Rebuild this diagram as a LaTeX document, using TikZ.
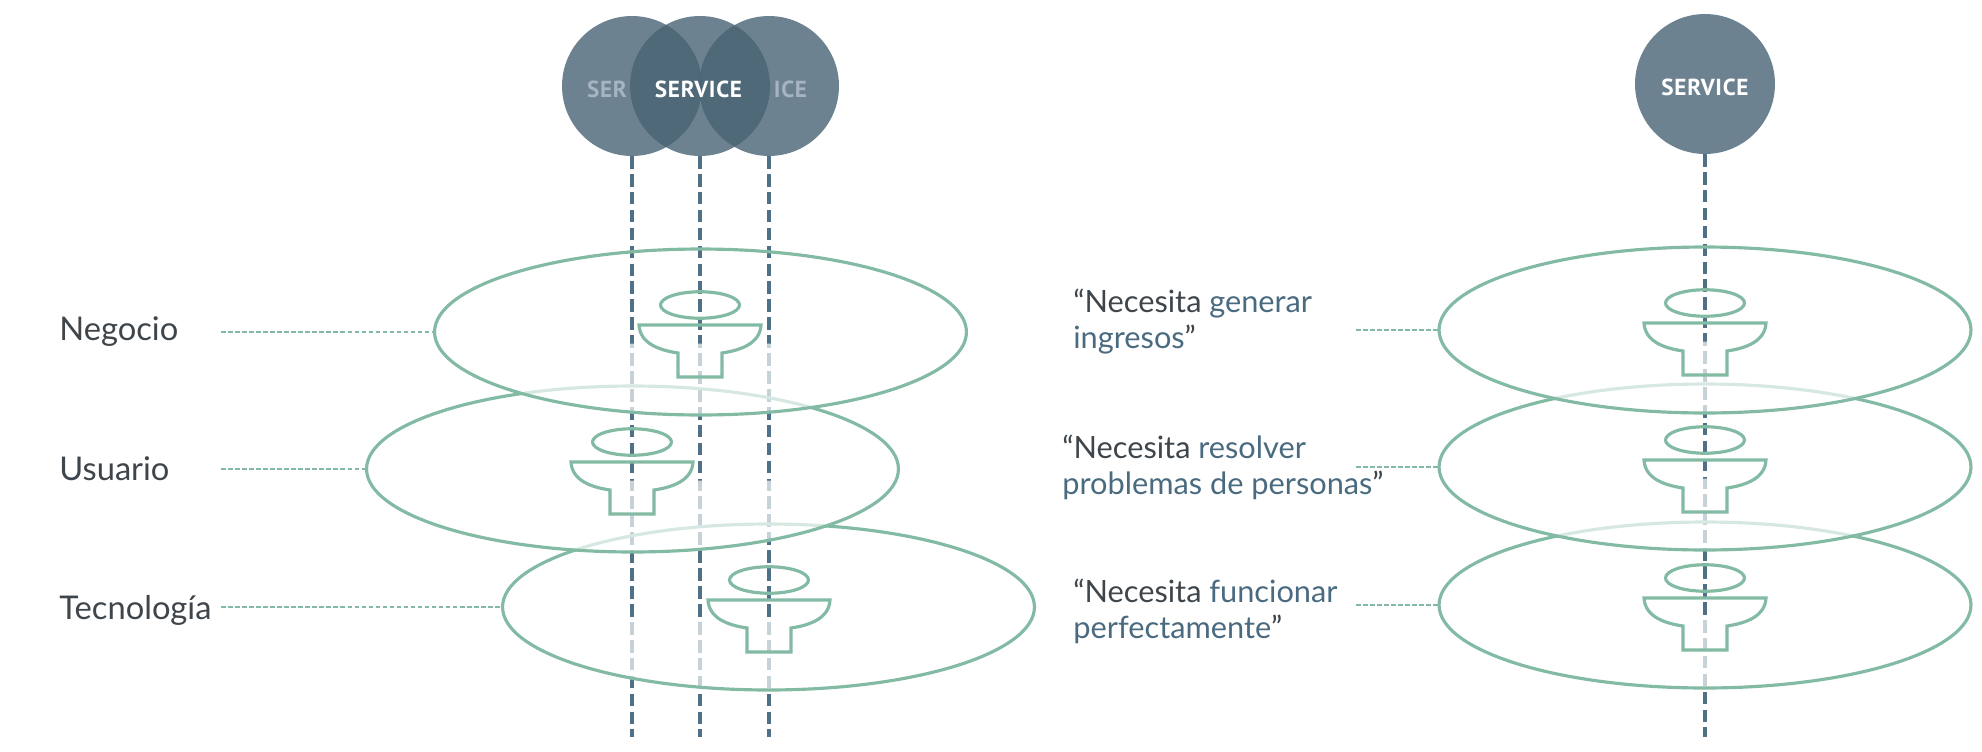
\documentclass[tikz,border=0pt]{standalone}
\usepackage{fontspec}
\setmainfont{Lato}
\newfontfamily\servicefont{PT Sans}[LetterSpace=3]
\usetikzlibrary{shapes.geometric}
\definecolor{circleblue}{HTML}{486374}
\definecolor{lineblue}{HTML}{4F7087}
\definecolor{textblue}{HTML}{4A6A80}
\definecolor{textdark}{HTML}{3E454B}
\definecolor{fadedtext}{HTML}{A5B3C3}
\definecolor{levelgreen}{HTML}{82BAA4}

\begin{document}
\begin{tikzpicture}[x=0.02cm,y=-0.02cm,
                    service node/.style={circle,fill=circleblue,fill opacity=0.8,text opacity=1,minimum size=2.8cm,inner sep=0pt,outer sep=0pt},
                    service text/.style={font=\servicefont\bfseries\fontsize{13.2pt}{15}\selectfont,inner sep=0pt},
                    level node/.style={ellipse,draw=levelgreen,line width=1.8pt,minimum width=10.64cm,minimum height=3.32cm,inner sep=0pt,outer sep=0pt},
                    main label/.style={font=\fontsize{18.6pt}{20pt}\selectfont,text=textdark,inner sep=0pt,anchor=base west,align=left},
                    quote label/.style={main label,font=\fontsize{17.5pt}{20.4pt}\selectfont},
                    axis line/.style={draw=lineblue,line width=1.8pt,dash pattern=on 7.2pt off 3pt},
                    leader line/.style={draw=levelgreen,line width=1.3pt,dash pattern=on 2.6pt off 1.4pt},
                    veil/.pic={\fill[white,opacity=0.68] (-263.4,11.6) arc[start angle=188,end angle=352,x radius=5.32cm,y radius=1.66cm] -- cycle;},
                    service mark/.pic={
                      \draw[levelgreen,line width=1.8pt] (0,-27) ellipse[x radius=0.79cm,y radius=0.265cm];
                      \draw[levelgreen,line width=1.8pt] (-61,-7) -- (61,-7) .. controls (60,11) and (42,18) .. (22,21) -- (22,45) -- (-22,45) -- (-22,21) .. controls (-42,18) and (-60,11) .. (-61,-7) -- cycle;
                    }]
  \useasboundingbox (0,0) rectangle (1982,751);

  % services
  \node[service node] (serv1) at (632,86) {};
  \node[service node] (serv2) at (700,86) {};
  \node[service node] (serv3) at (769,86) {};
  \node[service node] (servm) at (1705,84) {};
  \node[service text,text=fadedtext] (ser) at (607,89) {SER};
  \node[service text,text=fadedtext] (ice) at (790.5,89) {ICE};
  \node[service text,text=white] (servicea) at (698.5,89) {SERVICE};
  \node[service text,text=white] (serviceb) at (1705,87) {SERVICE};

  \coordinate (end1) at (632,737);
  \coordinate (end2) at (700,737);
  \coordinate (end3) at (769,737);
  \coordinate (endm) at (1705,737);

  \path[axis line]
    (serv1.south) edge (end1)
    (serv2.south) edge (end2)
    (serv3.south) edge (end3)
    (servm.south) edge (endm);

  % levels, lowest first
  \pic at (768.5,607) {veil};
  \node[level node] (tec) at (768.5,607) {};
  \pic at (769,607) {service mark};
  \pic at (632.5,469) {veil};
  \node[level node] (usu) at (632.5,469) {};
  \pic at (632,469) {service mark};
  \pic at (700.5,332) {veil};
  \node[level node] (neg) at (700.5,332) {};
  \pic at (700,332) {service mark};

  \pic at (1705,605) {veil};
  \node[level node] (tecm) at (1705,605) {};
  \pic at (1705,605) {service mark};
  \pic at (1705,467) {veil};
  \node[level node] (usum) at (1705,467) {};
  \pic at (1705,467) {service mark};
  \pic at (1705,330) {veil};
  \node[level node] (negm) at (1705,330) {};
  \pic at (1705,330) {service mark};

  % labels
  \node[main label] (negocio) at (59,340.5) {Negocio};
  \node[main label] (usuario) at (59,480.5) {Usuario};
  \node[main label] (tecnologia) at (59,619.5) {Tecnología};
  \node[quote label] (generar) at (1073,348) {“Necesita \textcolor{textblue}{generar}\\\textcolor{textblue}{ingresos}”};
  \node[quote label] (resolver) at (1062,494) {“Necesita \textcolor{textblue}{resolver}\\\textcolor{textblue}{problemas de personas}”};
  \node[quote label] (funcionar) at (1073,638) {“Necesita \textcolor{textblue}{funcionar}\\\textcolor{textblue}{perfectamente}”};

  \coordinate (from1) at (221,332);
  \coordinate (from2) at (221,469);
  \coordinate (from3) at (221,607);
  \coordinate (from4) at (1356,330);
  \coordinate (from5) at (1356,467);
  \coordinate (from6) at (1356,605);

  \path[leader line]
    (from1) edge (neg.west)
    (from2) edge (usu.west)
    (from3) edge (tec.west)
    (from4) edge (negm.west)
    (from5) edge (usum.west)
    (from6) edge (tecm.west);
\end{tikzpicture}
\end{document}
